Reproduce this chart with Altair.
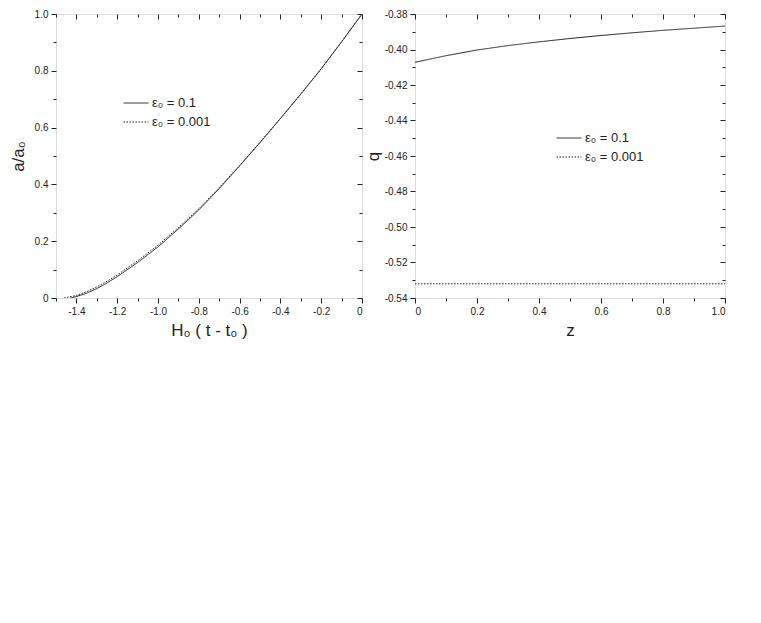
import altair as alt
import pandas as pd

# ---------------- data ----------------
series_labels = ["ε₀ = 0.1", "ε₀ = 0.001"]

# left panel: a/a0 versus H0 (t - t0)
t_eps01 = [-1.43, -1.4, -1.35, -1.3, -1.25, -1.2, -1.1, -1.0, -0.9, -0.8, -0.7, -0.6, -0.5, -0.4, -0.3, -0.2, -0.1, 0.0]
a_eps01 = [0.0, 0.005, 0.017, 0.033, 0.053, 0.075, 0.125, 0.18, 0.243, 0.31, 0.385, 0.465, 0.547, 0.632, 0.718, 0.807, 0.902, 1.0]
t_eps0001 = [-1.46, -1.4, -1.35, -1.3, -1.25, -1.2, -1.1, -1.0, -0.9, -0.8, -0.7, -0.6, -0.5, -0.4, -0.3, -0.2, -0.1, 0.0]
a_eps0001 = [0.0, 0.009, 0.022, 0.039, 0.059, 0.081, 0.131, 0.186, 0.248, 0.314, 0.388, 0.467, 0.548, 0.632, 0.718, 0.807, 0.902, 1.0]

# right panel: q versus z
z_vals = [0.0, 0.1, 0.2, 0.3, 0.4, 0.5, 0.6, 0.7, 0.8, 0.9, 1.0]
q_eps01 = [-0.4072, -0.4035, -0.4003, -0.3978, -0.3957, -0.3938, -0.3921, -0.3906, -0.3892, -0.388, -0.3868]
q_eps0001 = [-0.532, -0.532, -0.532, -0.532, -0.532, -0.532, -0.532, -0.532, -0.532, -0.532, -0.532]

# tick values
left_x_major = [-1.4, -1.2, -1.0, -0.8, -0.6, -0.4, -0.2, 0.0]
left_x_minor = [-1.5, -1.3, -1.1, -0.9, -0.7, -0.5, -0.3, -0.1]
left_y_major = [0.0, 0.2, 0.4, 0.6, 0.8, 1.0]
left_y_minor = [0.1, 0.3, 0.5, 0.7, 0.9]
right_x_major = [0.0, 0.2, 0.4, 0.6, 0.8, 1.0]
right_x_minor = [0.1, 0.3, 0.5, 0.7, 0.9]
right_y_major = [-0.54, -0.52, -0.50, -0.48, -0.46, -0.44, -0.42, -0.40, -0.38]
right_y_minor = [-0.53, -0.51, -0.49, -0.47, -0.45, -0.43, -0.41, -0.39]

left_df = pd.concat([
    pd.DataFrame({"x": t_eps01, "y": a_eps01, "series": series_labels[0]}),
    pd.DataFrame({"x": t_eps0001, "y": a_eps0001, "series": series_labels[1]}),
])
right_df = pd.concat([
    pd.DataFrame({"x": z_vals, "y": q_eps01, "series": series_labels[0]}),
    pd.DataFrame({"x": z_vals, "y": q_eps0001, "series": series_labels[1]}),
])

# ---------------- style ----------------
H = 284
FONT = "Liberation Sans"
INK = "#222222"


def axis(orient, values, size, labels=False, title=None, offset=0, fmt=".1f",
         label_padding=3, title_padding=6):
    kw = dict(
        orient=orient, values=values, tickSize=size, tickColor=INK, tickWidth=1,
        domain=False, grid=False, offset=offset, labels=labels,
        labelFont=FONT, labelFontSize=10, labelColor=INK, labelPadding=label_padding,
        titleFont=FONT, titleFontSize=17, titleFontWeight="normal", titleColor=INK,
        titlePadding=title_padding,
    )
    if labels:
        kw["labelExpr"] = (
            f"datum.value == 0 ? '0' : replace(format(datum.value, '{fmt}'), '\u2212', '-')"
        )
    kw["title"] = title
    return alt.Axis(**kw)


def panel(df, W, xdom, ydom, xmaj, xmin, ymaj, ymin, xtitle, ytitle, xfmt, yfmt,
          legx, legy, ytitle_pad):
    base = alt.Chart(df)
    xs = alt.Scale(domain=xdom, nice=False, zero=False)
    ys = alt.Scale(domain=ydom, nice=False, zero=False)

    line = base.mark_line(color=INK, strokeWidth=1, clip=True).encode(
        x=alt.X("x:Q", scale=xs, axis=axis("bottom", xmaj, 5, labels=True, title=xtitle,
                                           fmt=xfmt, title_padding=6)),
        y=alt.Y("y:Q", scale=ys, axis=axis("left", ymaj, 5, labels=True, title=ytitle, fmt=yfmt,
                                           title_padding=ytitle_pad)),
        strokeDash=alt.StrokeDash(
            "series:N",
            scale=alt.Scale(domain=series_labels, range=[[1, 0], [1.5, 1.5]]),
            legend=alt.Legend(
                orient="none", legendX=legx, legendY=legy, title=None,
                symbolType="stroke", symbolSize=625, symbolStrokeWidth=1,
                symbolStrokeColor=INK, labelFont=FONT, labelFontSize=13,
                labelColor=INK, labelOffset=3, rowPadding=5, clipHeight=14,
                padding=0,
            ),
        ),
    )
    minor = base.mark_line(opacity=0).encode(
        x=alt.X("x:Q", scale=xs, axis=axis("bottom", xmin, 3)),
        y=alt.Y("y:Q", scale=ys, axis=axis("left", ymin, 3)),
        detail="series:N",
    )
    inner_major = base.mark_line(opacity=0).encode(
        x=alt.X("x:Q", scale=xs, axis=axis("bottom", xmaj, 5, offset=-H)),
        y=alt.Y("y:Q", scale=ys, axis=axis("left", ymaj, 5, offset=-W)),
        detail="series:N",
    )
    inner_minor = base.mark_line(opacity=0).encode(
        x=alt.X("x:Q", scale=xs, axis=axis("bottom", xmin, 3, offset=-H)),
        y=alt.Y("y:Q", scale=ys, axis=axis("left", ymin, 3, offset=-W)),
        detail="series:N",
    )
    return alt.layer(line, minor, inner_major, inner_minor).resolve_axis(
        x="independent", y="independent"
    ).properties(width=W, height=H)


left = panel(left_df, 306, [-1.5, 0.0], [0.0, 1.0], left_x_major, left_x_minor,
             left_y_major, left_y_minor, "H₀ ( t - t₀ )", "a/a₀", ".1f", ".1f",
             67, 82, 7)
right = panel(right_df, 310, [0.0, 1.0], [-0.54, -0.38], right_x_major, right_x_minor,
              right_y_major, right_y_minor, "z", "q", ".1f", ".2f",
              141, 117, 2)

chart = alt.hconcat(left, right, spacing=0).resolve_scale(
    strokeDash="independent"
).resolve_legend(strokeDash="independent").properties(
    padding={"left": 0, "top": 0, "right": 0, "bottom": 0}
).configure_view(stroke=INK, strokeWidth=1).configure(background="white")

chart.save("out.html", embed_options={"renderer": "svg", "actions": False})
